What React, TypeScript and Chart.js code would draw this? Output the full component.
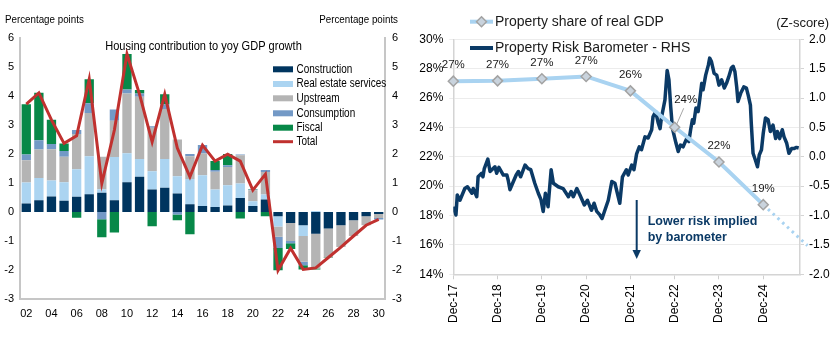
import React, { useEffect, useRef } from 'react';
import { Chart, registerables } from 'chart.js';
Chart.register(...registerables);

// ---------- Left chart data ----------
const years = ['02','03','04','05','06','07','08','09','10','11','12','13','14','15','16','17','18','19','20','21','22','23','24','25','26','27','28','29','30'];
const construction = [0.29,0.40,0.53,0.38,0.52,0.61,0.66,0.40,1.02,1.21,0.77,0.83,0.63,0.26,0.20,0.17,0.22,0.48,0.20,0.43,-0.15,-0.38,-0.46,-0.75,-0.57,-0.46,-0.29,-0.15,-0.07];
const realEstate = [0.72,0.77,0.55,0.64,0.95,1.31,0.12,1.49,1.00,0.61,0.63,0.99,0.60,0.87,1.06,0.60,0.70,0.50,0.17,0.17,-0.35,0,-0.37,0.03,0,0,0,0,0];
const upstream = [0.77,0.98,1.08,0.88,1.21,1.49,1.12,1.25,2.06,2.15,1.50,1.72,1.26,0.79,0.75,0.61,0.63,0.97,0.38,0.77,-0.36,-0.62,-0.89,-1.20,-1.00,-0.75,-0.54,-0.31,-0.14];
const consumption = [0.20,0.32,0.18,0.20,0.14,0.33,-0.25,0.39,0.14,0.11,0.05,0.17,-0.09,0.07,0.29,0.06,0.06,0.03,0.02,0.07,-0.38,-0.08,-0.12,0,0,0,0,0,-0.05];
const fiscal = [1.73,1.63,0.83,0.26,-0.20,0.83,-0.62,-0.71,1.22,0.12,-0.49,0.34,-0.20,-0.77,0,0.31,0.38,-0.23,0.02,-0.15,-0.77,-0.20,-0.14,-0.03,-0.02,0,0,0,0];
const total = [3.71,4.10,3.17,2.36,2.62,4.57,0.98,2.82,5.44,4.05,2.41,4.05,2.20,1.21,2.30,1.75,1.99,1.75,0.75,1.30,-2.01,-1.25,-1.98,-1.93,-1.57,-1.21,-0.83,-0.46,-0.26];
const leftSeriesNames = ['Construction','Real estate services','Upstream','Consumption','Fiscal','Total'];
const leftTitle = 'Housing contribution to yoy GDP growth';
const leftAxisTitle = 'Percentage points';

// ---------- Right chart data ----------
const shareT = [0,1,2,3,4,5,6,7,8]; // years after Dec-17
const shareV = [27.15,27.17,27.31,27.47,26.49,24.01,21.65,18.74,15.95];
const baroT = [0,0.06,0.09,0.15,0.26,0.32,0.42,0.45,0.53,0.56,0.64,0.67,0.70,0.78,0.83,0.94,0.98,1.03,1.13,1.21,1.24,1.28,1.34,1.42,1.47,1.52,1.62,1.69,1.75,1.84,1.92,1.98,2.03,2.08,2.14,2.21,2.26,2.37,2.48,2.60,2.66,2.71,2.79,2.86,2.96,3.03,3.12,3.18,3.24,3.31,3.36,3.40,3.50,3.58,3.65,3.76,3.82,3.91,3.95,4.03,4.08,4.14,4.20,4.25,4.33,4.40,4.48,4.51,4.57,4.63,4.67,4.70,4.78,4.83,4.87,4.91,4.95,5.03,5.08,5.13,5.19,5.27,5.32,5.36,5.40,5.43,5.48,5.53,5.57,5.61,5.64,5.70,5.76,5.79,5.83,5.89,5.95,6.00,6.06,6.12,6.17,6.22,6.28,6.32,6.36,6.40,6.43,6.49,6.56,6.62,6.66,6.71,6.73,6.77,6.82,6.87,6.91,6.96,7.00,7.05,7.11,7.16,7.22,7.28,7.32,7.37,7.43,7.47,7.53,7.58,7.64,7.69,7.75,7.80];
const baroV = [-0.85,-0.99,-0.65,-0.74,-0.54,-0.51,-0.62,-0.54,-0.68,-0.34,-0.28,-0.34,-0.20,-0.04,-0.25,-0.17,-0.28,-0.18,-0.31,-0.31,-0.40,-0.56,-0.45,-0.31,-0.25,-0.34,-0.14,-0.20,-0.22,-0.45,-0.62,-0.73,-0.93,-0.62,-0.85,-0.22,-0.45,-0.51,-0.54,-0.68,-0.59,-0.68,-0.54,-0.65,-0.82,-0.74,-0.91,-0.79,-0.93,-0.99,-1.05,-0.96,-0.74,-0.42,-0.45,-0.79,-0.34,-0.22,-0.31,-0.14,-0.22,0.05,0.17,0.12,0.34,0.32,0.46,0.68,0.77,0.57,0.48,0.66,0.97,1.47,1.31,0.85,0.48,0.23,0.09,0.20,0.17,0.31,0.26,0.46,0.63,0.57,0.83,0.77,1.00,1.25,1.14,1.39,1.56,1.68,1.62,1.42,1.39,1.22,1.31,1.17,1.25,1.36,1.51,1.54,1.45,1.19,0.94,1.08,1.19,1.17,1.05,0.88,0.57,0.06,-0.05,-0.17,0.03,0.12,0.40,0.66,0.63,0.43,0.54,0.31,0.43,0.31,0.46,0.34,0.23,0.06,0.14,0.14,0.16,0.15];
const rightSeriesNames = ['Property share of real GDP','Property Risk Barometer - RHS'];
const rightAxisTitle = '(Z-score)';
const noteLines = ['Lower risk implied','by barometer'];

const sans = "'Liberation Sans', Arial, sans-serif";

const C_CONS = '#00355F';
const C_RE = '#ABD4F1';
const C_UP = '#B4B4B4';
const C_CONSUM = '#7399C6';
const C_FISC = '#078848';
const C_TOT = '#C0312F';
const C_SHARE = '#A9D3F1';
const C_BARO = '#0B3A66';

// draws horizontally condensed text (the reference uses a narrow face)
function narrowText(ctx: CanvasRenderingContext2D, txt: string, x: number, y: number, sx: number) {
  ctx.save();
  ctx.translate(x, y);
  ctx.scale(sx, 1);
  ctx.fillText(txt, 0, 0);
  ctx.restore();
}

function LeftChart() {
  const ref = useRef<HTMLCanvasElement>(null);
  useEffect(() => {
    const colors = [C_CONS, C_RE, C_UP, C_CONSUM, C_FISC];
    const textPlugin = {
      id: 'leftText',
      afterDraw(chart: any) {
        const ctx = chart.ctx;
        ctx.save();
        ctx.fillStyle = '#000';
        ctx.textBaseline = 'middle';
        ctx.font = `11.5px ${sans}`;
        ctx.textAlign = 'left';
        narrowText(ctx, leftAxisTitle, 5, 20, 0.85);
        ctx.textAlign = 'right';
        narrowText(ctx, leftAxisTitle, 398, 20, 0.85);
        ctx.textAlign = 'center';
        ctx.font = `13px ${sans}`;
        narrowText(ctx, leftTitle, 203.5, 46, 0.85);
        const rows = [69.3, 84, 98.3, 113.3, 127.7, 141.7];
        ctx.font = `12px ${sans}`;
        ctx.textAlign = 'left';
        leftSeriesNames.forEach((n, i) => {
          const y = rows[i];
          if (i < 5) {
            ctx.fillStyle = colors[i];
            ctx.fillRect(273, y - 3, 20, 6);
          } else {
            ctx.strokeStyle = C_TOT;
            ctx.lineWidth = 3;
            ctx.beginPath();
            ctx.moveTo(273, y);
            ctx.lineTo(293, y);
            ctx.stroke();
          }
          ctx.fillStyle = '#000';
          narrowText(ctx, n, 296.5, y, 0.83);
        });
        ctx.restore();
      },
    };
    const mk = (label: string, data: number[], color: string) => ({
      type: 'bar' as const,
      label,
      data,
      backgroundColor: color,
      order: 1,
      stack: 'a',
      barPercentage: 0.74,
      categoryPercentage: 1,
    });
    const chart = new Chart(ref.current!, {
      type: 'bar',
      data: {
        labels: years,
        datasets: [
          mk('Construction', construction, C_CONS),
          mk('Real estate services', realEstate, C_RE),
          mk('Upstream', upstream, C_UP),
          mk('Consumption', consumption, C_CONSUM),
          mk('Fiscal', fiscal, C_FISC),
          {
            type: 'line' as const,
            label: 'Total',
            data: total,
            borderColor: C_TOT,
            borderWidth: 3,
            pointRadius: 0,
            tension: 0,
            order: 0,
            stack: 'total',
          } as any,
        ],
      },
      options: {
        animation: false,
        responsive: false,
        devicePixelRatio: 1,
        layout: { padding: { top: 37.7, left: 0, right: 0, bottom: 0 } },
        plugins: { legend: { display: false }, tooltip: { enabled: false } },
        scales: {
          x: {
            stacked: true,
            grid: { display: false, drawTicks: false },
            border: { display: true, color: '#C6C6C6', width: 2 },
            ticks: {
              autoSkip: false,
              maxRotation: 0,
              minRotation: 0,
              padding: 8,
              color: '#000',
              font: { family: sans, size: 11 },
              callback: (v: any, i: number) => (i % 2 === 0 ? years[i] : ''),
            },
            afterFit: (s: any) => { s.height = 56; },
          },
          y: {
            stacked: true,
            min: -3,
            max: 6,
            grid: { display: false, drawTicks: false },
            border: { display: true, color: '#C6C6C6', width: 2 },
            ticks: { stepSize: 1, padding: 6, color: '#000', font: { family: sans, size: 11 } },
            afterFit: (s: any) => { s.width = 20; },
          },
          y2: {
            position: 'right',
            min: -3,
            max: 6,
            grid: { display: false, drawTicks: false },
            border: { display: true, color: '#C6C6C6', width: 2 },
            ticks: { stepSize: 1, padding: 7, color: '#000', font: { family: sans, size: 11 } },
            afterFit: (s: any) => { s.width = 25; },
          },
        },
      } as any,
      plugins: [textPlugin],
    });
    return () => chart.destroy();
  }, []);
  return <canvas ref={ref} width={410} height={355} style={{ position: 'absolute', left: 0, top: 0, width: 410, height: 355 }} />;
}

function RightChart() {
  const ref = useRef<HTMLCanvasElement>(null);
  useEffect(() => {
    const annot = {
      id: 'rightText',
      afterDatasetsDraw(chart: any) {
        const ctx = chart.ctx;
        const meta = chart.getDatasetMeta(0);
        ctx.save();
        ctx.fillStyle = '#1a1a1a';
        ctx.font = `11.5px ${sans}`;
        ctx.textAlign = 'center';
        ctx.textBaseline = 'middle';
        meta.data.forEach((p: any, i: number) => {
          if (i >= 8) return;
          const txt = Math.round(shareV[i]) + '%';
          if (i === 5) {
            ctx.strokeStyle = '#A6A6A6';
            ctx.lineWidth = 1;
            ctx.beginPath();
            ctx.moveTo(p.x + 2, p.y - 3);
            ctx.lineTo(p.x + 9, p.y - 19);
            ctx.stroke();
            ctx.fillText(txt, p.x + 11, p.y - 27);
          } else {
            ctx.fillText(txt, p.x, p.y - 16);
          }
        });
        ctx.restore();
      },
      afterDraw(chart: any) {
        const ctx = chart.ctx;
        ctx.save();
        // legend
        ctx.lineCap = 'butt';
        ctx.strokeStyle = C_SHARE;
        ctx.lineWidth = 4;
        ctx.beginPath();
        ctx.moveTo(60, 21.7);
        ctx.lineTo(83, 21.7);
        ctx.stroke();
        ctx.fillStyle = '#C9D3DD';
        ctx.strokeStyle = '#A3A3A3';
        ctx.lineWidth = 1.5;
        ctx.beginPath();
        ctx.moveTo(71.5, 16.7);
        ctx.lineTo(76.5, 21.7);
        ctx.lineTo(71.5, 26.7);
        ctx.lineTo(66.5, 21.7);
        ctx.closePath();
        ctx.fill();
        ctx.stroke();
        ctx.strokeStyle = C_BARO;
        ctx.lineWidth = 4;
        ctx.beginPath();
        ctx.moveTo(60, 48);
        ctx.lineTo(83, 48);
        ctx.stroke();
        ctx.fillStyle = '#1a1a1a';
        ctx.font = `14px ${sans}`;
        ctx.textAlign = 'left';
        ctx.textBaseline = 'middle';
        ctx.fillText(rightSeriesNames[0], 85, 21.7);
        ctx.fillText(rightSeriesNames[1], 85, 48);
        ctx.font = `13px ${sans}`;
        ctx.textAlign = 'right';
        ctx.fillText(rightAxisTitle, 419, 23);
        // arrow
        ctx.strokeStyle = C_BARO;
        ctx.fillStyle = C_BARO;
        ctx.lineWidth = 2;
        ctx.beginPath();
        ctx.moveTo(226.7, 200);
        ctx.lineTo(226.7, 252);
        ctx.stroke();
        ctx.beginPath();
        ctx.moveTo(222.5, 250);
        ctx.lineTo(230.9, 250);
        ctx.lineTo(226.7, 259);
        ctx.closePath();
        ctx.fill();
        ctx.font = `bold 12.5px ${sans}`;
        ctx.textAlign = 'left';
        ctx.fillText(noteLines[0], 237.7, 222);
        ctx.fillText(noteLines[1], 237.7, 238);
        ctx.restore();
      },
    };
    const chart = new Chart(ref.current!, {
      type: 'line',
      data: {
        datasets: [
          {
            label: rightSeriesNames[0],
            data: shareT.map((t, i) => ({ x: t, y: shareV[i] })),
            yAxisID: 'y',
            borderColor: C_SHARE,
            borderWidth: 4,
            pointStyle: 'rectRot',
            pointRadius: shareT.map((_, i) => (i < 8 ? 5 : 0)),
            pointBackgroundColor: '#C9D3DD',
            pointBorderColor: '#A3A3A3',
            pointBorderWidth: 1.5,
            clip: false,
            segment: {
              borderDash: (c: any) => (c.p1DataIndex === 8 ? [2.5, 4] : undefined),
              borderWidth: (c: any) => (c.p1DataIndex === 8 ? 3 : undefined),
            },
            order: 0,
          },
          {
            label: rightSeriesNames[1],
            data: baroT.map((t, i) => ({ x: t, y: baroV[i] })),
            yAxisID: 'y2',
            borderColor: C_BARO,
            borderWidth: 3.5,
            borderJoinStyle: 'round',
            pointRadius: 0,
            tension: 0,
            order: 1,
          },
        ],
      },
      options: {
        animation: false,
        responsive: false,
        devicePixelRatio: 1,
        layout: { padding: { top: 39.3, left: 0, right: 0, bottom: 0 } },
        plugins: { legend: { display: false }, tooltip: { enabled: false } },
        scales: {
          x: {
            type: 'linear',
            min: 0,
            max: 7.83,
            afterBuildTicks: (s: any) => { s.ticks = [0, 1, 2, 3, 4, 5, 6, 7].map((v) => ({ value: v })); },
            grid: { display: true, drawOnChartArea: false, drawTicks: true, tickLength: 5, color: '#CFCFCF' },
            border: { display: true, color: '#D4D4D4', width: 1.5 },
            ticks: {
              autoSkip: false,
              minRotation: 90,
              maxRotation: 90,
              padding: 5,
              color: '#000',
              font: { family: sans, size: 12 },
              callback: (v: any) => 'Dec-' + (17 + Number(v)),
            },
            afterFit: (s: any) => { s.height = 80.7; },
          },
          y: {
            position: 'left',
            min: 14,
            max: 30,
            grid: { color: '#ECECEC', tickLength: 4, lineWidth: 1 },
            border: { display: true, color: '#D4D4D4', width: 1.5 },
            ticks: { stepSize: 2, padding: 6, color: '#000', font: { family: sans, size: 12 }, callback: (v: any) => v + '%' },
            afterFit: (s: any) => { s.width = 43.3; },
          },
          y2: {
            position: 'right',
            min: -2,
            max: 2,
            grid: { drawOnChartArea: false, tickLength: 4, color: '#D4D4D4' },
            border: { display: true, color: '#D4D4D4', width: 1.5 },
            ticks: { stepSize: 0.5, padding: 5, color: '#000', font: { family: sans, size: 12 }, callback: (v: any) => Number(v).toFixed(1) },
            afterFit: (s: any) => { s.width = 38; },
          },
        },
      } as any,
      plugins: [annot],
    });
    return () => chart.destroy();
  }, []);
  return <canvas ref={ref} width={428} height={355} style={{ position: 'absolute', left: 410, top: 0, width: 428, height: 355 }} />;
}

export default function App() {
  return (
    <div style={{ position: 'fixed', left: 0, top: 0, width: 838, height: 355, background: '#fff', overflow: 'hidden' }}>
      <LeftChart />
      <RightChart />
    </div>
  );
}
